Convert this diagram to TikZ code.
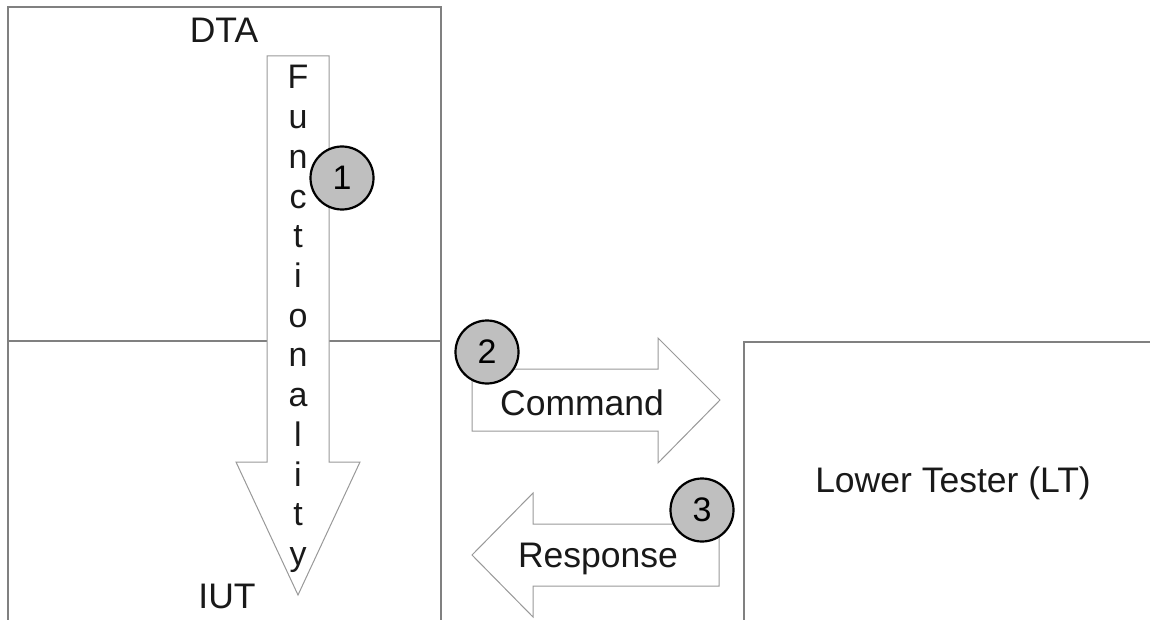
\documentclass[tikz,border=0pt]{standalone}
\usepackage{fontspec}
\setmainfont{Liberation Sans}
\begin{document}
\begin{tikzpicture}[x=1pt,y=-1pt,
  boxline/.style={draw=black!50,line width=1.4pt},
  blockarrow/.style={draw=black!40,fill=white,line width=1pt,line join=miter},
  txt/.style={inner sep=0pt,anchor=base,font=\fontsize{35.5}{42}\selectfont,text=black!90},
  letter/.style={inner sep=0pt,anchor=base,font=\fontsize{34}{40}\selectfont,text=black!90},
  stepmark/.style={circle,draw=black,line width=2.2pt,fill=black!25,minimum size=63pt,inner sep=0pt,font=\fontsize{34}{40}\selectfont}]
\useasboundingbox (0,0) rectangle (1150,620);
% boxes
\coordinate (dtaTL) at (8,7);
\coordinate (dtaTR) at (441,7);
\coordinate (midL) at (8,341);
\coordinate (midR) at (441,341);
\coordinate (botL) at (8,620);
\coordinate (botR) at (441,620);
\coordinate (ltB) at (744,620);
\coordinate (ltT) at (744,342);
\coordinate (ltR) at (1150,342);
\draw[boxline] (botL) -- (dtaTL) -- (dtaTR) -- (botR);
\draw[boxline] (midL) -- (midR);
\draw[boxline] (ltB) -- (ltT) -- (ltR);
\node[txt] (dta) at (224,43) {DTA};
\node[txt] (iut) at (227,608) {IUT};
\node[txt] (lt) at (953,492) {Lower Tester (LT)};
% functionality arrow
\draw[blockarrow] (267,56) -- (329,56) -- (329,462) -- (360,462) -- (298,595) -- (236,462) -- (267,462) -- cycle;
\foreach \ch [count=\i from 0] in {F,u,n,c,t,i,o,n,a,l,i,t,y} {
  \node[letter] (f\i) at (298,{89+39.7*\i}) {\ch};
}
% command arrow
\draw[blockarrow] (472,369) -- (658,369) -- (658,338) -- (720,400) -- (658,463) -- (658,431) -- (472,431) -- cycle;
\node[txt] (cmd) at (582,415) {Command};
% response arrow
\draw[blockarrow] (719,524) -- (533,524) -- (533,493) -- (472,555) -- (533,617) -- (533,586) -- (719,586) -- cycle;
\node[txt] (resp) at (598,567) {Response};
% step circles
\node[stepmark] (s1) at (342,178) {1};
\node[stepmark] (s2) at (487,352) {2};
\node[stepmark] (s3) at (702,510) {3};
\end{tikzpicture}
\end{document}
